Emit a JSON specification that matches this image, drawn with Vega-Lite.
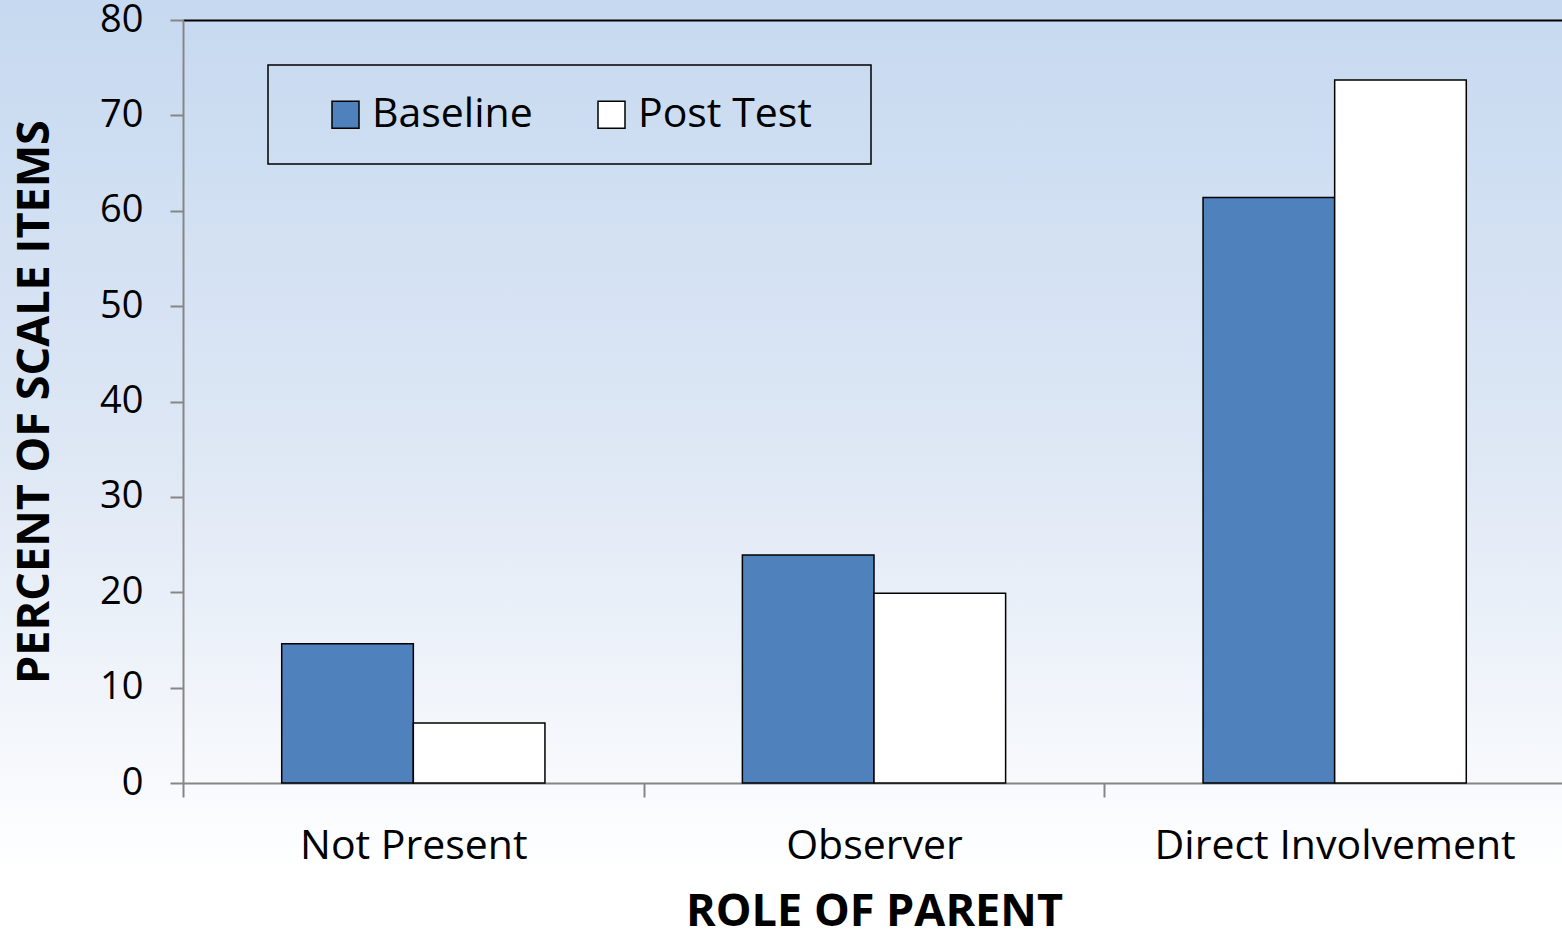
{
  "$schema": "https://vega.github.io/schema/vega-lite/v6.json",
  "width": 1562,
  "height": 942,
  "autosize": "none",
  "padding": 0,
  "background": "#ffffff",
  "config": {
    "font": "Open Sans",
    "view": {
      "stroke": null,
      "fill": {
        "gradient": "linear",
        "x1": 0, "y1": 0, "x2": 0, "y2": 1,
        "stops": [
          {"offset": 0, "color": "#c6d9f0"},
          {"offset": 0.5, "color": "#dfe8f5"},
          {"offset": 0.93, "color": "#ffffff"},
          {"offset": 1, "color": "#ffffff"}
        ]
      }
    }
  },
  "data": {
    "values": [
      {"role": "Not Present", "test": "Baseline", "value": 14.6},
      {"role": "Not Present", "test": "Post Test", "value": 6.3},
      {"role": "Observer", "test": "Baseline", "value": 23.9},
      {"role": "Observer", "test": "Post Test", "value": 19.9},
      {"role": "Direct Involvement", "test": "Baseline", "value": 61.4},
      {"role": "Direct Involvement", "test": "Post Test", "value": 73.7}
    ]
  },
  "mark": {"type": "bar", "stroke": "#000000", "strokeWidth": 1.5},
  "encoding": {
    "x": {
      "field": "role",
      "type": "nominal",
      "sort": ["Not Present", "Observer", "Direct Involvement"],
      "scale": {"range": [183, 1565], "paddingInner": 0, "paddingOuter": 0},
      "axis": {
        "orient": "bottom",
        "offset": -159,
        "title": "ROLE OF PARENT",
        "titleFontSize": 45,
        "titleFontWeight": "bold",
        "titleColor": "#000000",
        "titlePadding": 23,
        "labelFontSize": 41,
        "labelColor": "#000000",
        "labelAngle": 0,
        "labelLimit": 0,
        "labelPadding": 29,
        "tickBand": "extent",
        "tickSize": 14,
        "tickColor": "#868686",
        "tickWidth": 2,
        "domainColor": "#868686",
        "domainWidth": 2
      }
    },
    "xOffset": {
      "field": "test",
      "type": "nominal",
      "sort": ["Baseline", "Post Test"],
      "scale": {"paddingOuter": 0.75, "paddingInner": 0}
    },
    "y": {
      "field": "value",
      "type": "quantitative",
      "scale": {"domain": [0, 80], "range": [783, 20], "nice": false},
      "axis": {
        "orient": "left",
        "offset": -183,
        "values": [0, 10, 20, 30, 40, 50, 60, 70, 80],
        "title": "PERCENT OF SCALE ITEMS",
        "titleFontSize": 45,
        "titleFontWeight": "bold",
        "titleColor": "#000000",
        "titlePadding": 42,
        "labelFontSize": 38,
        "labelColor": "#000000",
        "labelPadding": 27,
        "tickSize": 13,
        "tickColor": "#868686",
        "tickWidth": 2,
        "domainColor": "#868686",
        "domainWidth": 2,
        "grid": true,
        "gridColor": {"condition": {"test": "datum.value === 80", "value": "#000000"}, "value": "transparent"},
        "gridWidth": 2
      }
    },
    "color": {
      "field": "test",
      "type": "nominal",
      "sort": ["Baseline", "Post Test"],
      "scale": {"range": ["#4f81bd", "#ffffff"]},
      "legend": {
        "orient": "none",
        "legendX": 268,
        "legendY": 65,
        "direction": "horizontal",
        "title": null,
        "padding": 29,
        "strokeColor": "#000000",
        "symbolType": "square",
        "symbolSize": 729,
        "symbolStrokeColor": "#000000",
        "symbolStrokeWidth": 1.5,
        "symbolOpacity": 1,
        "symbolOffset": 28,
        "labelFontSize": 41,
        "labelColor": "#000000",
        "labelOffset": 6,
        "labelLimit": 0,
        "columnPadding": 30,
        "labelExpr": "datum.label === 'Post Test' ? 'Post Test\u2800' : datum.label",
        "encode": {"legend": {"update": {"strokeWidth": {"value": 1.5}}}}
      }
    }
  }
}
